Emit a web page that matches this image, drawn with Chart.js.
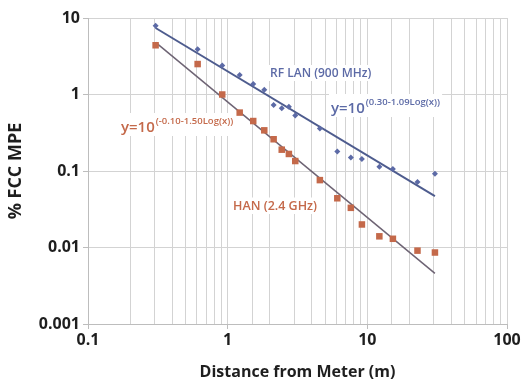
<!DOCTYPE html>
<html>
<head>
<meta charset="utf-8">
<script src="https://cdn.jsdelivr.net/npm/chart.js@4/dist/chart.umd.min.js"></script>
<style>
  html, body { margin: 0; padding: 0; background: #ffffff; }
  #wrap { width: 525px; height: 383px; position: relative; }
</style>
</head>
<body>
<div id="wrap"><canvas id="c" width="525" height="383"></canvas></div>
<script>
// ---- data ----
const distances = [0.3048, 0.6096, 0.9144, 1.2192, 1.524, 1.8288, 2.1336, 2.4384, 2.7432, 3.048,
                   4.572, 6.096, 7.62, 9.144, 12.192, 15.24, 22.86, 30.48];
const rfLanValues = [7.9, 3.9, 2.4, 1.8, 1.37, 1.15, 0.73, 0.66, 0.69, 0.53,
                     0.36, 0.18, 0.15, 0.144, 0.114, 0.106, 0.072, 0.092];
const hanValues = [4.4, 2.5, 1.0, 0.58, 0.45, 0.34, 0.26, 0.19, 0.167, 0.135,
                   0.076, 0.044, 0.033, 0.020, 0.014, 0.013, 0.0091, 0.0086];
// trend line end points
const trendX = [0.3048, 30.48];
const rfLanTrend = [7.4, 0.047];
const hanTrend = [4.8, 0.0046];

const xTicks = [0.1, 1, 10, 100];
const xTickLabels = ['0.1', '1', '10', '100'];
const yTicks = [0.001, 0.01, 0.1, 1, 10];
const yTickLabels = ['0.001', '0.01', '0.1', '1', '10'];

const xTitle = 'Distance from Meter (m)';
const yTitle = '% FCC MPE';
const rfLanLabel = 'RF LAN (900 MHz)';
const hanLabel = 'HAN (2.4 GHz)';
const rfLanFormulaBase = 'y=10';
const rfLanFormulaExp = '(0.30-1.09Log(x))';
const hanFormulaBase = 'y=10';
const hanFormulaExp = '(-0.10-1.50Log(x))';

const BLUE = '#5c6aa6';
const BLUE_LINE = '#4e5c8e';
const ORANGE = '#c4694a';
const ORANGE_LINE = '#6e6474';
const FONT = "'Open Sans', 'DejaVu Sans', sans-serif";

function pts(xs, ys) { return xs.map((x, i) => ({ x: x, y: ys[i] })); }
function isDecade(v) { const l = Math.log10(v); return Math.abs(l - Math.round(l)) < 1e-9; }

const annotations = {
  id: 'annotations',
  afterDatasetsDraw(chart) {
    const ctx = chart.ctx;
    ctx.save();
    ctx.textBaseline = 'alphabetic';
    function box(x, y, w, h) {
      ctx.fillStyle = '#ffffff';
      ctx.fillRect(x, y, w, h);
    }
    function plain(text, x, y, color, size) {
      ctx.font = '600 ' + size + 'px ' + FONT;
      const w = ctx.measureText(text).width;
      box(x - 2, y - size, w + 4, size + 4);
      ctx.fillStyle = color;
      ctx.fillText(text, x, y);
    }
    function formula(base, exp, x, y, color, bsize, esize) {
      ctx.font = '600 ' + bsize + 'px ' + FONT;
      const wb = ctx.measureText(base).width;
      ctx.font = '600 ' + esize + 'px ' + FONT;
      const we = ctx.measureText(exp).width;
      box(x - 2, y - bsize - 4, wb + we + 5, bsize + 8);
      ctx.fillStyle = color;
      ctx.font = '600 ' + bsize + 'px ' + FONT;
      ctx.fillText(base, x, y);
      ctx.font = '600 ' + esize + 'px ' + FONT;
      ctx.fillText(exp, x + wb + 1, y - bsize * 0.55);
    }
    plain(rfLanLabel, 270, 77, BLUE, 12);
    formula(rfLanFormulaBase, rfLanFormulaExp, 331, 113, BLUE, 15, 9.5);
    formula(hanFormulaBase, hanFormulaExp, 121, 132, ORANGE, 15, 9.5);
    plain(hanLabel, 233, 210, ORANGE, 12.5);
    ctx.restore();
  }
};

new Chart(document.getElementById('c'), {
  type: 'scatter',
  data: {
    datasets: [
      { label: 'RF LAN trend', data: pts(trendX, rfLanTrend), showLine: true, borderColor: BLUE_LINE,
        borderWidth: 2, pointRadius: 0, order: 3 },
      { label: 'HAN trend', data: pts(trendX, hanTrend), showLine: true, borderColor: ORANGE_LINE,
        borderWidth: 1.5, pointRadius: 0, order: 4 },
      { label: 'RF LAN (900 MHz)', data: pts(distances, rfLanValues), pointStyle: 'rectRot',
        pointRadius: 3, backgroundColor: BLUE, borderColor: BLUE, borderWidth: 0, order: 1 },
      { label: 'HAN (2.4 GHz)', data: pts(distances, hanValues), pointStyle: 'rect',
        pointRadius: 4.6, backgroundColor: ORANGE, borderColor: ORANGE, borderWidth: 0, order: 2 }
    ]
  },
  options: {
    responsive: false,
    animation: false,
    events: [],
    layout: { padding: { left: 0, right: 18, top: 18, bottom: 0 } },
    plugins: { legend: { display: false }, tooltip: { enabled: false } },
    scales: {
      x: {
        type: 'logarithmic', min: 0.1, max: 100,
        afterFit(s) { s.height = 59; },
        grid: {
          color: '#d3d3d3', lineWidth: 1, tickLength: 5,
          tickColor: (c) => (c.tick && isDecade(c.tick.value)) ? '#bdbdbd' : 'rgba(0,0,0,0)'
        },
        border: { color: '#bdbdbd' },
        ticks: {
          autoSkip: false, maxRotation: 0, padding: 2, color: '#1e1e1e',
          font: { family: FONT, size: 16, weight: 'bold' },
          callback(v) {
            if (!isDecade(v)) return '';
            const i = xTicks.findIndex(t => Math.abs(Math.log10(t) - Math.log10(v)) < 1e-9);
            return i >= 0 ? xTickLabels[i] : '';
          }
        },
        title: { display: true, text: xTitle, color: '#1e1e1e', padding: { top: 0, bottom: 1 },
                 font: { family: FONT, size: 16, weight: 'bold' } }
      },
      y: {
        type: 'logarithmic', min: 0.001, max: 10,
        afterFit(s) { s.width = 88; },
        afterBuildTicks(s) { s.ticks = yTicks.map(v => ({ value: v })); },
        grid: { color: '#d3d3d3', lineWidth: 1, tickLength: 5, tickColor: '#bdbdbd' },
        border: { color: '#bdbdbd' },
        ticks: {
          autoSkip: false, padding: 3, color: '#1e1e1e',
          font: { family: FONT, size: 16, weight: 'bold' },
          callback(v, i) {
            const k = yTicks.findIndex(t => Math.abs(Math.log10(t) - Math.log10(v)) < 1e-9);
            return k >= 0 ? yTickLabels[k] : '';
          }
        },
        title: { display: true, text: yTitle, color: '#1e1e1e', padding: { top: 5, bottom: 0 },
                 font: { family: FONT, size: 18, weight: 'bold' } }
      }
    }
  },
  plugins: [annotations]
});
</script>
</body>
</html>
